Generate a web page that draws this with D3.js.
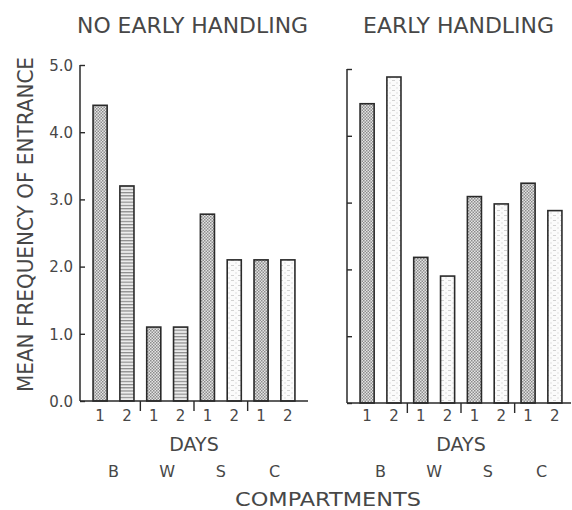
<!DOCTYPE html>
<html>
<head>
<meta charset="utf-8">
<script src="https://cdn.jsdelivr.net/npm/d3@7"></script>
<style>
  html, body { margin: 0; padding: 0; background: #fff; }
  svg { display: block; }
  text { font-family: "DejaVu Sans", "Liberation Sans", sans-serif; fill: #474747; }
</style>
</head>
<body>
<script>
// Mean frequency of entrance into each compartment, by day, for two rearing groups
const panelTitles = ["NO EARLY HANDLING", "EARLY HANDLING"];
const compartments = ["B", "W", "S", "C"];
const days = ["1", "2"];
const noHandlingValues = [4.4, 3.2, 1.1, 1.1, 2.78, 2.1, 2.1, 2.1];
const earlyHandlingValues = [4.48, 4.88, 2.18, 1.9, 3.09, 2.98, 3.29, 2.88];
const yTickValues = [0, 1, 2, 3, 4, 5];
const yAxisTitle = "MEAN FREQUENCY OF ENTRANCE";
const xAxisTitle = "DAYS";
const groupTitle = "COMPARTMENTS";

const W = 572, H = 510;
const ink = "#2a2a2a";

const svg = d3.select("body").append("svg")
  .attr("width", W).attr("height", H);

// Fill patterns: stippled for day 1, horizontal hatching for day 2
const defs = svg.append("defs");
const stip = defs.append("pattern").attr("id", "stipple")
  .attr("patternUnits", "userSpaceOnUse").attr("width", 3).attr("height", 3);
stip.append("rect").attr("width", 3).attr("height", 3).attr("fill", "#e4e4e4");
stip.append("rect").attr("x", 0).attr("y", 0).attr("width", 1.5).attr("height", 1.5).attr("fill", "#8c8c8c");
stip.append("rect").attr("x", 1.5).attr("y", 1.5).attr("width", 1.5).attr("height", 1.5).attr("fill", "#8c8c8c");

const hatch = defs.append("pattern").attr("id", "hatch")
  .attr("patternUnits", "userSpaceOnUse").attr("width", 6).attr("height", 3.2);
hatch.append("rect").attr("width", 6).attr("height", 3.2).attr("fill", "#ececec");
hatch.append("rect").attr("x", 0).attr("y", 0).attr("width", 6).attr("height", 1.2).attr("fill", "#8a8a8a");

const light = defs.append("pattern").attr("id", "light")
  .attr("patternUnits", "userSpaceOnUse").attr("width", 7).attr("height", 5);
light.append("rect").attr("width", 7).attr("height", 5).attr("fill", "#fbfbfb");
light.append("rect").attr("x", 0).attr("y", 0).attr("width", 3).attr("height", 1).attr("fill", "#d2d2d2");
light.append("rect").attr("x", 4).attr("y", 2.5).attr("width", 2).attr("height", 1).attr("fill", "#e0e0e0");

// Categories: compartment x day
const cats = [];
compartments.forEach(c => days.forEach(d => cats.push(c + d)));

const panels = [
  { title: panelTitles[0], values: noHandlingValues, x0: 80, x1: 308, axisEnd: 308, yTop: 65, yBase: 401,
    labels: true, titleX: 77, titleW: 231, day2Fill: ["hatch", "hatch", "light", "light"] },
  { title: panelTitles[1], values: earlyHandlingValues, x0: 347, x1: 575, axisEnd: 571, yTop: 69, yBase: 403,
    labels: false, titleX: 363, titleW: 191, day2Fill: ["light", "light", "light", "light"] }
];

panels.forEach(p => {
  const x = d3.scaleBand().domain(cats).range([p.x0, p.x1])
    .paddingInner(0.475).paddingOuter(0.487);
  const y = d3.scaleLinear().domain([0, 5]).range([p.yBase, p.yTop]);
  const g = svg.append("g");

  // Bars
  g.selectAll("rect.bar").data(p.values).join("rect")
    .attr("class", "bar")
    .attr("x", (v, i) => x(cats[i]))
    .attr("y", v => y(v))
    .attr("width", x.bandwidth())
    .attr("height", v => y(0) - y(v))
    .attr("fill", (v, i) => i % 2 === 0 ? "url(#stipple)" : "url(#" + p.day2Fill[Math.floor(i / 2)] + ")")
    .attr("stroke", ink).attr("stroke-width", 1.6);

  // Y axis with inward ticks
  const yAxis = d3.axisRight(y).tickValues(yTickValues).tickSize(5)
    .tickFormat(p.labels ? d3.format(".1f") : "");
  const ya = g.append("g").attr("transform", `translate(${p.x0},0)`).call(yAxis);
  ya.select(".domain").remove();
  ya.selectAll(".tick line").attr("stroke", ink).attr("stroke-width", 1.4);
  ya.selectAll(".tick text")
    .attr("x", -7).attr("dy", "0.35em").attr("text-anchor", "end")
    .style("font-family", "\"DejaVu Sans\", sans-serif")
    .style("font-size", "15px").style("fill", "#474747");
  g.append("line").attr("x1", p.x0).attr("x2", p.x0)
    .attr("y1", y(5)).attr("y2", y(0)).attr("stroke", ink).attr("stroke-width", 1.5);

  // X baseline
  g.append("line").attr("x1", p.x0).attr("x2", p.axisEnd)
    .attr("y1", y(0)).attr("y2", y(0)).attr("stroke", ink).attr("stroke-width", 1.5);

  // Separators between compartments, below the baseline
  for (let k = 1; k < compartments.length; k++) {
    const a = x(cats[2 * k - 1]) + x.bandwidth();
    const b = x(cats[2 * k]);
    const sx = (a + b) / 2;
    g.append("line").attr("x1", sx).attr("x2", sx)
      .attr("y1", y(0)).attr("y2", y(0) + 10).attr("stroke", ink).attr("stroke-width", 1.4);
  }

  // Day labels
  g.selectAll("text.day").data(cats).join("text")
    .attr("class", "day")
    .attr("x", c => x(c) + x.bandwidth() / 2)
    .attr("y", 421)
    .attr("text-anchor", "middle")
    .style("font-size", "15px")
    .text(c => c.slice(1));

  // DAYS caption
  g.append("text")
    .attr("x", (x(cats[0]) + x(cats[cats.length - 1]) + x.bandwidth()) / 2)
    .attr("y", 451).attr("text-anchor", "middle")
    .style("font-size", "19px").text(xAxisTitle);

  // Compartment letters
  g.selectAll("text.comp").data(compartments).join("text")
    .attr("class", "comp")
    .attr("x", c => (x(c + days[0]) + x(c + days[1]) + x.bandwidth()) / 2)
    .attr("y", 477).attr("text-anchor", "middle")
    .style("font-size", "16px").text(c => c);

  // Panel title
  g.append("text")
    .attr("x", p.titleX).attr("y", 33)
    .attr("textLength", p.titleW).attr("lengthAdjust", "spacingAndGlyphs")
    .style("font-size", "22px").text(p.title);
});

// Shared axis titles
svg.append("text")
  .attr("transform", "translate(33,224.5) rotate(-90)")
  .attr("text-anchor", "middle")
  .attr("textLength", 335).attr("lengthAdjust", "spacingAndGlyphs")
  .style("font-size", "21px").text(yAxisTitle);

svg.append("text")
  .attr("x", 235).attr("y", 506)
  .attr("textLength", 186).attr("lengthAdjust", "spacingAndGlyphs")
  .style("font-size", "20px").text(groupTitle);
</script>
</body>
</html>
